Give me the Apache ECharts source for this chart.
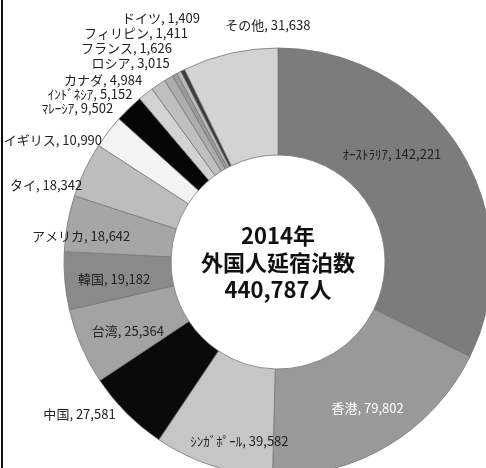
<!DOCTYPE html>
<html>
<head>
<meta charset="utf-8">
<script src="https://cdn.jsdelivr.net/npm/echarts@6/dist/echarts.min.js"></script>
<style>
html,body{margin:0;padding:0;background:#fff;}
#c{width:486px;height:468px;}
</style>
</head>
<body>
<div id="c"></div>
<script>
var categories = ['ｵｰｽﾄﾗﾘｱ','香港','ｼﾝｶﾞﾎﾟｰﾙ','中国','台湾','韓国','アメリカ','タイ','イギリス','ﾏﾚｰｼｱ','ｲﾝﾄﾞﾈｼｱ','カナダ','ロシア','フランス','フィリピン','ドイツ','その他'];
var values = [142221,79802,39582,27581,25364,19182,18642,18342,10990,9502,5152,4984,3015,1626,1411,1409,31638];
var centerLines = ['2014年','外国人延宿泊数','440,787人'];

// styling (not data): slice colours, label placement tweaks
var colors = ['#7c7c7c','#999999','#c6c6c6','#0a0a0a','#a3a3a3','#8a8a8a','#a6a6a6','#bdbdbd','#f3f3f3','#060606','#d2d2d2','#bfbfbf','#adadad','#9a9a9a','#bbbbbb','#3a3a3a','#d3d3d3'];
var insideLabel = [true,true,true,false,true,true,true,false,false,false,false,false,false,false,false,false,false];
var labelShift = [[-25,-22],[5,6],[11,23],[-3,-2],[0,4],[-1,3],[-36,4],[6,17],[2,11],[-8,3],[-6,4],[-9,-1],[8,-12],[4,-23],[16,-36],[24,-49],[1,-24]];
var labelAlign = {16:'left'};

var data = categories.map(function(n,i){
  var item = {name:n, value:values[i], itemStyle:{color:colors[i]}};
  if (insideLabel[i]) {
    item.label = {position:'inside', color: i===1 ? '#ffffff' : '#222'};
  }
  return item;
});

var chart = echarts.init(document.getElementById('c'));
chart.setOption({
  animation:false,
  series:[{
    type:'pie',
    center:[278,262],
    radius:[107,214],
    startAngle:90,
    clockwise:true,
    avoidLabelOverlap:false,
    itemStyle:{borderColor:'#777',borderWidth:0.8},
    label:{
      show:true,
      position:'outside',
      fontFamily:'Noto Sans CJK JP',
      fontSize:13,
      color:'#222',
      formatter:function(p){return p.name+', '+p.value.toLocaleString('en-US');}
    },
    labelLine:{show:false,length:4,length2:0},
    labelLayout:function(p){
      var s = labelShift[p.dataIndex];
      var r = {dx:s[0], dy:s[1]};
      if (labelAlign[p.dataIndex]) r.align = labelAlign[p.dataIndex];
      return r;
    },
    emphasis:{disabled:true},
    data:data
  }],
  graphic:[
    {type:'rect',shape:{x:1,y:0,width:2,height:468},style:{fill:'#111'}},
    {type:'text',x:278,y:263,style:{text:centerLines.join('\n'),textAlign:'center',textVerticalAlign:'middle',font:'bold 22px "Noto Sans CJK JP"',lineHeight:27,fill:'#111'}}
  ]
});
</script>
</body>
</html>
